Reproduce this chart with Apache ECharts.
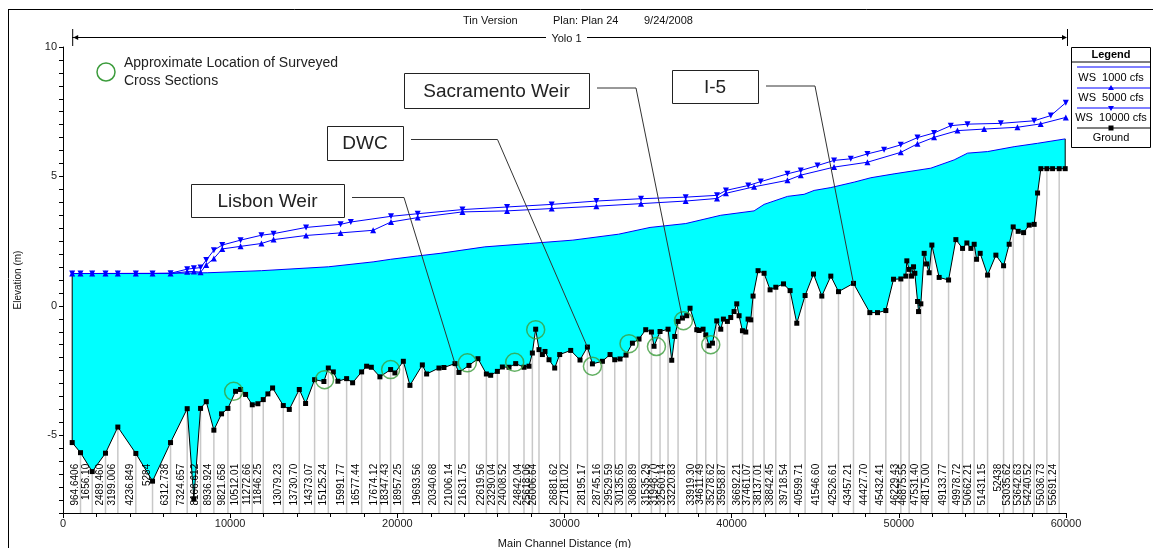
<!DOCTYPE html>
<html>
<head>
<meta charset="utf-8">
<title>Yolo 1 profile</title>
<script src="https://cdn.jsdelivr.net/npm/echarts@6/dist/echarts.min.js"></script>
<style>
  html, body { margin: 0; padding: 0; background: #ffffff; }
  #chart { width: 1153px; height: 548px; }
</style>
</head>
<body>
<div id="chart"></div>
<script>
// ---- Ground profile along the main channel (distance m, elevation m) ----
const groundDist = [
  550, 1047, 1747, 2543, 3280, 4357, 5356, 6433, 7430, 7829,
  8229, 8570, 9025, 9485, 9865, 10323, 10623, 10922, 11322, 11658,
  11980, 12257, 12538, 13178, 13537, 14135, 14512, 15051, 15608, 15871,
  16170, 16445, 16966, 17325, 17864, 18163, 18444, 18958, 19599, 19856,
  20359, 20754, 21496, 21753, 22490, 22789, 23448, 23687, 24285, 24824,
  25326, 25584, 25985, 26283, 26680, 27080, 27578, 27877, 28078, 28276,
  28474, 28677, 28833, 29073, 29414, 29713, 30371, 30928, 31371, 31670,
  32269, 32724, 33005, 33322, 33681, 34063, 34458, 34859, 35200, 35356,
  35715, 36194, 36415, 36595, 36793, 37055, 37313, 37511, 37912, 38049,
  38289, 38450, 38648, 38851, 39108, 39348, 39506, 39745, 39945, 40144,
  40305, 40443, 40645, 40844, 40982, 41143, 41281, 41580, 41939, 42298,
  42640, 43100, 43495, 43896, 44393, 44895, 45392, 45931, 46390, 47288,
  48264, 48725, 49222, 49683, 50120, 50419, 50479, 50617, 50761, 50880,
  50958, 51120, 51179, 51317, 51516, 51659, 51815, 51976, 52413, 52975,
  53412, 53813, 54070, 54309, 54507, 54650, 54866, 55309, 55805, 56266,
  56601, 56841, 57140, 57463, 57798, 58097, 58300, 58497, 58856, 59198,
  59593, 59952
];
const groundElev = [
  -5.28, -5.67, -6.40, -5.69, -4.68, -5.70, -6.77, -5.28, -3.97, -7.46,
  -3.96, -3.70, -4.80, -4.17, -3.96, -3.30, -3.23, -3.42, -3.82, -3.78,
  -3.62, -3.40, -3.17, -3.85, -4.00, -3.23, -3.77, -2.85, -2.92, -2.40,
  -2.55, -2.91, -2.81, -2.97, -2.55, -2.33, -2.37, -2.74, -2.46, -2.59,
  -2.14, -3.07, -2.28, -2.63, -2.40, -2.38, -2.23, -2.57, -2.30, -2.04,
  -2.63, -2.68, -2.53, -2.36, -2.37, -2.23, -2.37, -2.33, -1.82, -0.90,
  -1.69, -1.88, -1.76, -2.08, -2.40, -1.88, -1.72, -2.09, -1.59, -2.24,
  -2.14, -1.88, -2.08, -2.05, -1.90, -1.44, -1.28, -0.92, -1.01, -1.56,
  -0.99, -0.90, -2.10, -1.18, -0.60, -0.47, -0.38, -0.09, -0.92, -0.95,
  -0.90, -1.12, -1.54, -1.44, -0.58, -0.90, -0.51, -0.60, -0.45, -0.22,
  0.08, -0.38, -0.96, -1.01, -0.51, -0.54, 0.38, 1.36, 1.26, 0.62,
  0.72, 0.85, 0.59, -0.67, 0.40, 1.23, 0.38, 1.15, 0.55, 0.87,
  -0.26, -0.26, -0.18, 1.03, 1.04, 1.15, 1.74, 1.41, 1.15, 1.51,
  1.26, 0.17, -0.22, 0.08, 2.03, 1.62, 1.28, 2.35, 1.10, 1.00,
  2.56, 2.22, 2.43, 2.22, 2.38, 1.80, 2.03, 1.19, 1.96, 1.55,
  2.38, 3.05, 2.88, 2.83, 3.12, 3.15, 4.36, 5.30, 5.30, 5.30,
  5.30, 5.30
];

// ---- River stations printed along the bottom (distance of the station, its label) ----
const stationDist = [
  1047, 1747, 2543, 3280, 4357, 5356, 6433, 7430, 8229, 9025,
  9865, 10623, 11322, 11980, 13178, 14135, 15051, 15871, 16966, 17864,
  18958, 19599, 20359, 21496, 22490, 23448, 24285, 25326, 25985, 26680,
  27578, 28078, 28474, 29713, 30371, 31371, 32269, 33005, 33681, 34458,
  35200, 35715, 36194, 36793, 37912, 38450, 39108, 39745, 40645, 41281,
  41939, 42640, 43495, 44393, 45392, 46390, 47288, 48264, 49222, 50120,
  50617, 51317, 51976, 52975, 53813, 54507, 55309, 56266, 56841, 57463,
  58097, 58856, 59593
];
const stationLabel = [
  '964.6406', '1656.10', '2489.460', '3199.006', '4236.849', '5284', '6312.738', '7324.657', '8166.612', '8936.924',
  '9821.658', '10512.01', '11272.66', '11846.25', '13079.23', '13730.70', '14373.07', '15125.24', '15991.77', '16577.44',
  '17674.12', '18347.43', '18957.25', '19693.56', '20340.68', '21006.14', '21631.75', '22619.56', '23290.04', '24008.52',
  '24842.04', '25618.06', '26006.64', '26881.62', '27181.02', '28195.17', '28745.16', '29529.59', '30135.65', '30889.89',
  '31535.29', '31948.70', '32560.14', '33220.83', '33919.30', '34611.49', '35278.62', '35958.87', '36692.21', '37461.07',
  '38137.01', '38842.45', '39718.54', '40599.71', '41546.60', '42526.61', '43457.21', '44427.70', '45432.41', '46229.43',
  '46875.55', '47531.40', '48175.00', '49133.77', '49978.72', '50662.21', '51431.15', '52438', '53035.62', '53642.63',
  '54240.52', '55036.73', '55691.24'
];

// ---- Water surface profiles [distance m, elevation m] ----
const ws1000 = [
  [550, 1.25], [6530, 1.26], [8665, 1.28], [11873, 1.36], [15882, 1.51], [18551, 1.70],
  [19600, 1.80], [21220, 1.93], [22560, 2.03], [25229, 2.28], [27902, 2.41], [30500, 2.54],
  [33240, 2.77], [35116, 3.03], [37253, 3.18], [39347, 3.50], [41340, 3.67], [41939, 3.92],
  [43340, 4.23], [44334, 4.31], [44932, 4.46], [45931, 4.57], [47327, 4.78], [48324, 4.95],
  [49719, 5.10], [51915, 5.32], [53311, 5.64], [54110, 5.90], [55307, 5.96], [56899, 6.15],
  [58300, 6.28], [59952, 6.45]
];
const ws5000 = [
  [550, 1.25], [1047, 1.25], [1747, 1.25], [2543, 1.25], [3280, 1.25], [4357, 1.25],
  [5356, 1.25], [6433, 1.25], [7430, 1.32], [7829, 1.33], [8229, 1.30], [8570, 1.58],
  [9025, 1.83], [9525, 2.20], [10622, 2.30], [11872, 2.41], [12596, 2.56], [14541, 2.72],
  [16606, 2.82], [18551, 2.92], [19621, 3.24], [21219, 3.41], [23894, 3.63], [26563, 3.67],
  [29232, 3.76], [31906, 3.85], [34576, 3.95], [37250, 4.05], [39123, 4.15], [39656, 4.35],
  [41340, 4.60], [43336, 4.85], [44134, 5.05], [46125, 5.36], [48123, 5.55], [50115, 5.93],
  [51115, 6.26], [52108, 6.51], [53507, 6.77], [55103, 6.83], [57094, 6.90], [58487, 7.03],
  [59989, 7.28]
];
const ws10000 = [
  [550, 1.25], [1047, 1.25], [1747, 1.25], [2543, 1.25], [3280, 1.25], [4357, 1.25],
  [5356, 1.25], [6433, 1.26], [7430, 1.42], [7829, 1.45], [8229, 1.48], [8570, 1.77],
  [9025, 2.15], [9525, 2.35], [10622, 2.54], [11872, 2.73], [12596, 2.79], [14541, 3.03],
  [16606, 3.15], [17216, 3.24], [19621, 3.46], [21219, 3.56], [23894, 3.72], [26563, 3.82],
  [29232, 3.92], [31906, 4.05], [34576, 4.14], [37250, 4.20], [39123, 4.27], [39656, 4.46],
  [40991, 4.65], [41738, 4.80], [43336, 5.10], [44134, 5.23], [45133, 5.42], [46125, 5.62],
  [47124, 5.68], [48123, 5.87], [49117, 6.03], [50115, 6.22], [51115, 6.50], [52108, 6.68],
  [53107, 6.96], [54106, 7.02], [56100, 7.05], [58093, 7.15], [59092, 7.35], [59989, 7.85]
];

// ---- Surveyed cross sections (circle centres) ----
const surveyDist = [10207, 15649, 19599, 24189, 27020, 28277, 31670, 33860, 35500, 37116, 38749];
const surveyElev = [-3.30, -2.85, -2.46, -2.20, -2.18, -0.92, -2.33, -1.46, -1.57, -0.57, -1.50];

// ---- Call-outs and the ground station each one points at ----
const calloutText = ['Lisbon Weir', 'DWC', 'Sacramento Weir', 'I-5'];
const calloutTarget = [23448, 31371, 37055, 47288];

// ---- Axis tick labels ----
const xTickLabels = [0, 10000, 20000, 30000, 40000, 50000, 60000];
const yTickLabels = [-5, 0, 5, 10];

const FONT = 'Arial, "Liberation Sans", sans-serif';
const BLUE = '#0000ff';
const CYAN = '#00ffff';

function elevAt(d) { return groundElev[groundDist.indexOf(d)]; }

const chart = echarts.init(document.getElementById('chart'), null, { renderer: 'canvas' });

const grid = { left: 63, top: 47, right: 87, bottom: 35, outerBoundsMode: 'none', containLabel: false };
const labelTopElev = -6.1;   // where the rotated station numbers end (top)
const yMin = -8;

chart.setOption({
  animation: false,
  backgroundColor: '#ffffff',
  textStyle: { fontFamily: FONT },
  grid: grid,
  xAxis: {
    type: 'value', min: 0, max: 60000, interval: 10000,
    name: 'Main Channel Distance (m)', nameLocation: 'middle', nameGap: 25,
    nameTextStyle: { fontSize: 11, color: '#111', fontFamily: FONT },
    axisLine: { onZero: false, lineStyle: { color: '#000', width: 1 } },
    axisTick: { length: 5, lineStyle: { color: '#000' } },
    minorTick: { show: true, splitNumber: 5, length: 4, lineStyle: { color: '#000' } },
    axisLabel: { fontSize: 11, color: '#222', margin: 5, fontFamily: FONT,
      customValues: xTickLabels, formatter: v => String(v) },
    splitLine: { show: false }
  },
  yAxis: {
    type: 'value', min: yMin, max: 10, interval: 0.5,
    name: 'Elevation (m)', nameLocation: 'middle', nameGap: 40,
    nameTextStyle: { fontSize: 10, color: '#111', fontFamily: FONT },
    axisLine: { show: true, onZero: false, lineStyle: { color: '#000', width: 1 } },
    axisTick: { length: 4, lineStyle: { color: '#000' } },
    axisLabel: { fontSize: 11, color: '#222', margin: 6, fontFamily: FONT,
      customValues: yTickLabels, formatter: v => String(v) },
    splitLine: { show: false }
  },
  series: [
    {
      // water body between the ground and the 1000 cfs surface
      type: 'custom', coordinateSystem: 'cartesian2d', silent: true, z: 1,
      data: [[groundDist[0], groundElev[0]]],
      renderItem: function (params, api) {
        const pts = ws1000.map(p => api.coord(p));
        for (let i = groundDist.length - 1; i >= 0; i--) {
          pts.push(api.coord([groundDist[i], groundElev[i]]));
        }
        const n = groundDist.length;
        const a0 = api.coord(ws1000[0]);
        const b0 = api.coord([groundDist[0], groundElev[0]]);
        const a1 = api.coord(ws1000[ws1000.length - 1]);
        const b1 = api.coord([groundDist[n - 1], groundElev[n - 1]]);
        return {
          type: 'group',
          children: [
            { type: 'polygon', shape: { points: pts }, style: { fill: CYAN } },
            { type: 'line', shape: { x1: a0[0], y1: a0[1], x2: b0[0], y2: b0[1] }, style: { stroke: '#000', lineWidth: 1 } },
            { type: 'line', shape: { x1: a1[0], y1: a1[1], x2: b1[0], y2: b1[1] }, style: { stroke: '#000', lineWidth: 1 } }
          ]
        };
      }
    },
    {
      // station drop lines and station numbers
      type: 'custom', coordinateSystem: 'cartesian2d', silent: true, z: 2,
      data: stationDist.map((d, i) => [d, elevAt(d), i]),
      renderItem: function (params, api) {
        const d = api.value(0);
        const top = api.coord([d, api.value(1)]);
        const bot = api.coord([d, yMin]);
        const lab = api.coord([d, labelTopElev]);
        return {
          type: 'group',
          children: [
            { type: 'line', shape: { x1: top[0], y1: top[1], x2: bot[0], y2: bot[1] },
              style: { stroke: '#c8c8c8', lineWidth: 1.5 } },
            { type: 'text', x: lab[0] - 0.5, y: lab[1], rotation: Math.PI / 2,
              style: { text: stationLabel[api.value(2)], fill: '#000', font: '10px ' + FONT,
                align: 'right', verticalAlign: 'bottom' } }
          ]
        };
      }
    },
    {
      name: 'WS 1000 cfs', type: 'line', z: 4, silent: true,
      data: ws1000, symbol: 'none',
      lineStyle: { color: BLUE, width: 1 }
    },
    {
      name: 'WS 5000 cfs', type: 'line', z: 4, silent: true,
      data: ws5000, symbol: 'triangle', symbolSize: 6, showAllSymbol: true,
      itemStyle: { color: BLUE }, lineStyle: { color: BLUE, width: 1 }
    },
    {
      name: 'WS 10000 cfs', type: 'line', z: 4, silent: true,
      data: ws10000, symbol: 'triangle', symbolRotate: 180, symbolSize: 6, showAllSymbol: true,
      itemStyle: { color: BLUE }, lineStyle: { color: BLUE, width: 1 }
    },
    {
      name: 'Ground', type: 'line', z: 5, silent: true,
      data: groundDist.map((d, i) => [d, groundElev[i]]),
      symbol: 'rect', symbolSize: 5, showAllSymbol: true,
      itemStyle: { color: '#000' }, lineStyle: { color: '#000', width: 1 }
    },
    {
      name: 'Surveyed', type: 'scatter', z: 6, silent: true,
      data: surveyDist.map((d, i) => [d, surveyElev[i]]),
      symbol: 'circle', symbolSize: 18,
      itemStyle: { color: 'rgba(0,0,0,0)', borderColor: '#3c9c3c', borderWidth: 1.5 }
    }
  ]
});

// ---- Frame, header, reach bar, call-outs and legend ----
const px = v => chart.convertToPixel({ xAxisIndex: 0, yAxisIndex: 0 }, v);
const reachL = px([groundDist[0], 0])[0];
const reachR = px([60000, 0])[0];
const reachY = 37.5;

const graphics = [
  // outer frame
  { type: 'line', shape: { x1: 8, y1: 9.5, x2: 1153, y2: 9.5 }, style: { stroke: '#000', lineWidth: 1 } },
  { type: 'line', shape: { x1: 8.5, y1: 9, x2: 8.5, y2: 548 }, style: { stroke: '#000', lineWidth: 1 } },
  // header
  { type: 'text', x: 463, y: 21, style: { text: 'Tin Version', font: '11px ' + FONT, fill: '#111', verticalAlign: 'middle' } },
  { type: 'text', x: 553, y: 21, style: { text: 'Plan: Plan 24', font: '11px ' + FONT, fill: '#111', verticalAlign: 'middle' } },
  { type: 'text', x: 644, y: 21, style: { text: '9/24/2008', font: '11px ' + FONT, fill: '#111', verticalAlign: 'middle' } },
  // reach bar
  { type: 'line', shape: { x1: reachL, y1: reachY, x2: 546, y2: reachY }, style: { stroke: '#000', lineWidth: 1 } },
  { type: 'line', shape: { x1: 587, y1: reachY, x2: reachR, y2: reachY }, style: { stroke: '#000', lineWidth: 1 } },
  { type: 'line', shape: { x1: reachL + 0.5, y1: 29, x2: reachL + 0.5, y2: 46 }, style: { stroke: '#000', lineWidth: 1 } },
  { type: 'line', shape: { x1: reachR + 1.5, y1: 29, x2: reachR + 1.5, y2: 46 }, style: { stroke: '#000', lineWidth: 1 } },
  { type: 'polygon', shape: { points: [[reachL + 1, reachY], [reachL + 6, reachY - 2.5], [reachL + 6, reachY + 2.5]] }, style: { fill: '#000' } },
  { type: 'polygon', shape: { points: [[reachR + 1, reachY], [reachR - 4, reachY - 2.5], [reachR - 4, reachY + 2.5]] }, style: { fill: '#000' } },
  { type: 'text', x: 566.5, y: 39, style: { text: 'Yolo 1', font: '11px ' + FONT, fill: '#111', align: 'center', verticalAlign: 'middle' } },
  // surveyed sections key
  { type: 'circle', shape: { cx: 106, cy: 72, r: 9 }, style: { fill: 'none', stroke: '#3c9c3c', lineWidth: 1.5 } },
  { type: 'text', x: 124, y: 63, style: { text: 'Approximate Location of Surveyed', font: '14px ' + FONT, fill: '#222', verticalAlign: 'middle' } },
  { type: 'text', x: 124, y: 81, style: { text: 'Cross Sections', font: '14px ' + FONT, fill: '#222', verticalAlign: 'middle' } }
];

// call-out boxes: [x, y, w, h] and the bend of each leader
const calloutBox = [[191, 184, 153, 33], [327, 126, 76, 34], [404, 73, 185, 35], [672, 70, 86, 33]];
const calloutBend = [[404, 197.5], [497.5, 139.5], [636, 88], [815, 86]];
calloutText.forEach((t, i) => {
  const b = calloutBox[i];
  const bend = calloutBend[i];
  const tgt = px([calloutTarget[i], elevAt(calloutTarget[i])]);
  graphics.push({ type: 'rect', shape: { x: b[0] + 0.5, y: b[1] + 0.5, width: b[2], height: b[3] },
    style: { fill: '#fff', stroke: '#222', lineWidth: 1 }, z: 10 });
  graphics.push({ type: 'text', x: b[0] + b[2] / 2, y: b[1] + b[3] / 2 + 1,
    style: { text: t, font: '19px ' + FONT, fill: '#222', align: 'center', verticalAlign: 'middle' }, z: 11 });
  graphics.push({ type: 'polyline', shape: { points: [[b[0] + b[2] + 8, bend[1]], bend, tgt] },
    style: { stroke: '#333', lineWidth: 1, fill: 'none' }, z: 10 });
});

// legend panel
const LX = 1071.5, LY = 47.5, LW = 79, LH = 100;
const lx1 = 1077, lx2 = 1150, lcx = 1111;
graphics.push(
  { type: 'rect', shape: { x: LX, y: LY, width: LW, height: LH }, style: { fill: '#fff', stroke: '#000', lineWidth: 1 }, z: 10 },
  { type: 'text', x: lcx, y: 55, style: { text: 'Legend', font: 'bold 11px ' + FONT, fill: '#000', align: 'center', verticalAlign: 'middle' }, z: 11 },
  { type: 'line', shape: { x1: LX, y1: 62, x2: LX + LW, y2: 62 }, style: { stroke: '#000', lineWidth: 1 }, z: 11 },
  { type: 'line', shape: { x1: lx1, y1: 67, x2: lx2, y2: 67 }, style: { stroke: BLUE, lineWidth: 1 }, z: 11 },
  { type: 'text', x: lcx, y: 78, style: { text: 'WS  1000 cfs', font: '11px ' + FONT, fill: '#000', align: 'center', verticalAlign: 'middle' }, z: 11 },
  { type: 'line', shape: { x1: lx1, y1: 88, x2: lx2, y2: 88 }, style: { stroke: BLUE, lineWidth: 1 }, z: 11 },
  { type: 'polygon', shape: { points: [[lcx, 85], [lcx - 3, 90], [lcx + 3, 90]] }, style: { fill: BLUE }, z: 11 },
  { type: 'text', x: lcx, y: 98, style: { text: 'WS  5000 cfs', font: '11px ' + FONT, fill: '#000', align: 'center', verticalAlign: 'middle' }, z: 11 },
  { type: 'line', shape: { x1: lx1, y1: 108, x2: lx2, y2: 108 }, style: { stroke: BLUE, lineWidth: 1 }, z: 11 },
  { type: 'polygon', shape: { points: [[lcx, 111], [lcx - 3, 106], [lcx + 3, 106]] }, style: { fill: BLUE }, z: 11 },
  { type: 'text', x: lcx, y: 118, style: { text: 'WS  10000 cfs', font: '11px ' + FONT, fill: '#000', align: 'center', verticalAlign: 'middle' }, z: 11 },
  { type: 'line', shape: { x1: lx1, y1: 128, x2: lx2, y2: 128 }, style: { stroke: '#000', lineWidth: 1 }, z: 11 },
  { type: 'rect', shape: { x: lcx - 2.5, y: 125.5, width: 5, height: 5 }, style: { fill: '#000' }, z: 11 },
  { type: 'text', x: lcx, y: 138, style: { text: 'Ground', font: '11px ' + FONT, fill: '#000', align: 'center', verticalAlign: 'middle' }, z: 11 }
);

chart.setOption({ graphic: graphics });
</script>
</body>
</html>
